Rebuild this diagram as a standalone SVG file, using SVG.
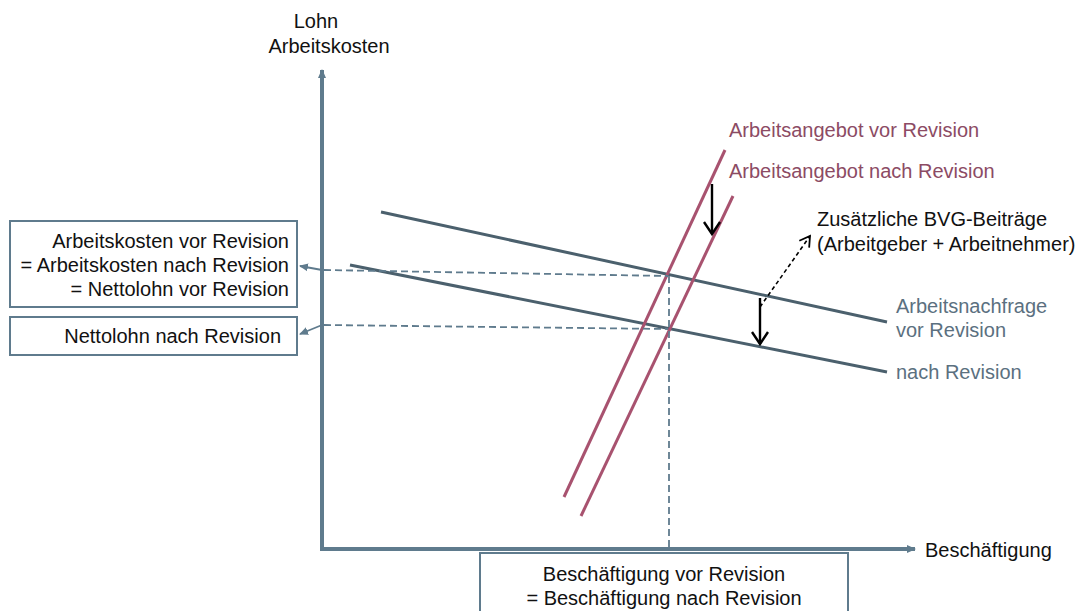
<svg xmlns="http://www.w3.org/2000/svg" width="1087" height="611" viewBox="0 0 1087 611">
  <style>
    text { font-family: "Liberation Sans", Arial, sans-serif; font-size: 20px; fill: #111; }
    .axis { stroke: #5f7b8d; stroke-width: 4; fill: none; }
    .box { fill: #fff; stroke: #5f7b8d; stroke-width: 2; }
    .guide { stroke: #5f7b8d; stroke-width: 1.8; stroke-dasharray: 7 4; fill: none; }
    .pointer { stroke: #5f7b8d; stroke-width: 1.8; fill: none; }
    .demand { stroke: #4b606d; stroke-width: 3; fill: none; }
    .supply { stroke: #a8526f; stroke-width: 3; fill: none; }
    .shift { stroke: #000; stroke-width: 2.4; fill: none; }
    .note { stroke: #000; stroke-width: 1.6; stroke-dasharray: 4 3; fill: none; }
    .slabel { fill: #8c4b64; }
    .dlabel { fill: #5b7080; }
  </style>
  <defs>
    <marker id="axisHead" markerWidth="10" markerHeight="10" refX="8" refY="5" orient="auto" markerUnits="userSpaceOnUse">
      <path d="M0,1 L9,5 L0,9 Z" fill="#5f7b8d"/>
    </marker>
    <marker id="ptrHead" markerWidth="10" markerHeight="10" refX="8" refY="5" orient="auto" markerUnits="userSpaceOnUse">
      <path d="M0,1 L9,5 L0,9 Z" fill="#5f7b8d"/>
    </marker>
    <marker id="openHead" markerWidth="16" markerHeight="20" refX="13" refY="10" orient="auto" markerUnits="userSpaceOnUse">
      <path d="M1,2 L13,10 L1,18" fill="none" stroke="#000" stroke-width="2.4"/>
    </marker>
    <marker id="noteHead" markerWidth="14" markerHeight="16" refX="11" refY="8" orient="auto" markerUnits="userSpaceOnUse">
      <path d="M1,2 L11,8 L1,14" fill="none" stroke="#000" stroke-width="1.8"/>
    </marker>
  </defs>

  <!-- axes -->
  <g id="axes">
    <line class="axis" x1="322" y1="551" x2="322" y2="70" marker-end="url(#axisHead)"/>
    <line class="axis" x1="320" y1="549" x2="915" y2="549" marker-end="url(#axisHead)"/>
    <text x="316" y="28" text-anchor="middle">Lohn</text>
    <text x="329" y="53" text-anchor="middle">Arbeitskosten</text>
    <text x="925" y="557">Beschäftigung</text>
  </g>

  <!-- value boxes -->
  <g id="box-arbeitskosten">
    <rect class="box" x="10" y="221" width="287" height="86"/>
    <text x="289" y="248" text-anchor="end">Arbeitskosten vor Revision</text>
    <text x="289" y="272" text-anchor="end">= Arbeitskosten nach Revision</text>
    <text x="289" y="296" text-anchor="end">= Nettolohn vor Revision</text>
  </g>
  <g id="box-nettolohn">
    <rect class="box" x="10" y="317" width="287" height="38"/>
    <text x="281" y="343" text-anchor="end">Nettolohn nach Revision</text>
  </g>
  <g id="box-beschaeftigung">
    <rect class="box" x="480" y="553" width="368" height="70"/>
    <text x="664" y="581" text-anchor="middle">Beschäftigung vor Revision</text>
    <text x="664" y="605" text-anchor="middle">= Beschäftigung nach Revision</text>
  </g>

  <!-- curves -->
  <g id="demand-vor">
    <line class="demand" x1="381" y1="212" x2="887" y2="322"/>
    <text class="dlabel" x="896" y="313">Arbeitsnachfrage</text>
    <text class="dlabel" x="896" y="337">vor Revision</text>
  </g>
  <g id="demand-nach">
    <line class="demand" x1="350" y1="265" x2="887" y2="372"/>
    <text class="dlabel" x="896" y="379">nach Revision</text>
  </g>
  <g id="supply-vor">
    <line class="supply" x1="564" y1="497" x2="725" y2="150"/>
    <text class="slabel" x="729" y="137">Arbeitsangebot vor Revision</text>
  </g>
  <g id="supply-nach">
    <line class="supply" x1="581" y1="516" x2="733" y2="196"/>
    <text class="slabel" x="729" y="178">Arbeitsangebot nach Revision</text>
  </g>
  <g id="note-bvg">
    <text x="817" y="226">Zusätzliche BVG-Beiträge</text>
    <text x="817" y="251">(Arbeitgeber + Arbeitnehmer)</text>
  </g>

  <!-- connectors -->
  <g id="connectors">
    <path class="guide" d="M324,270 L668,276"/>
    <path class="guide" d="M324,325 L668,329"/>
    <path class="guide" d="M669,276 L669,548"/>
    <line class="pointer" x1="322" y1="270" x2="300" y2="266" marker-end="url(#ptrHead)"/>
    <line class="pointer" x1="322" y1="325" x2="300" y2="334" marker-end="url(#ptrHead)"/>
    <line class="shift" x1="712" y1="184" x2="712" y2="234" marker-end="url(#openHead)"/>
    <line class="shift" x1="760" y1="298" x2="760" y2="344" marker-end="url(#openHead)"/>
    <line class="note" x1="760" y1="307" x2="810" y2="236" marker-end="url(#noteHead)"/>
  </g>
</svg>
